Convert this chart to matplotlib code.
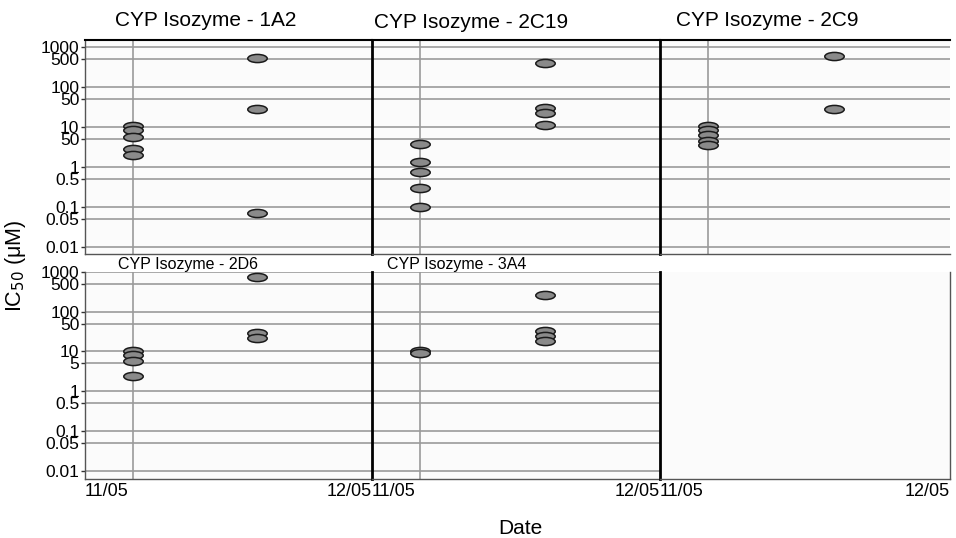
import numpy as np
import matplotlib
matplotlib.use('Agg')
import matplotlib.pyplot as plt
import matplotlib.dates as mdates
from matplotlib.path import Path
from datetime import datetime

plt.rcParams['font.family'] = ['Liberation Sans', 'DejaVu Sans']

############## data
isozymes = ['1A2', '2C19', '2C9', '2D6', '3A4']
run_dates = ['2005-11-06', '2005-11-19']
axis_start = '2005-11-01'
axis_end = '2005-12-01'

ic50_1A2 = ([10.5, 8.2, 5.6, 2.7, 2.0], [520, 28, 0.068])
ic50_2C19 = ([3.6, 1.3, 0.75, 0.3, 0.1], [400, 30, 22, 11])
ic50_2C9 = ([10.5, 8.3, 6.2, 4.3, 3.4], [590, 28])
ic50_2D6 = ([10.5, 8.0, 5.8, 2.4], [740, 30, 22])
ic50_3A4 = ([10, 9], [270, 32, 24, 18])
values = [ic50_1A2, ic50_2C19, ic50_2C9, ic50_2D6, ic50_3A4]

ytick_vals = [0.01, 0.05, 0.1, 0.5, 1, 5, 10, 50, 100, 500, 1000]
ytick_top = ['0.01', '0.05', '0.1', '0.5', '1', '50', '10', '50', '100', '500', '1000']
ytick_bottom = ['0.01', '0.05', '0.1', '0.5', '1', '5', '10', '50', '100', '500', '1000']

############## figure
W, H = 956, 538
fig = plt.figure(figsize=(W / 100, H / 100), dpi=100)

def px_axes(x0, y0, x1, y1):
    # pixel box (from top-left) -> figure axes
    return fig.add_axes([x0 / W, 1 - y1 / H, (x1 - x0) / W, (y1 - y0) / H])

cols = [(85, 372), (372, 660), (660, 950)]
rows = [(40, 254, (0.0066, 1470)), (272, 479, (0.0062, 1000))]

# ellipse marker
circ = Path.unit_circle()
ellipse = Path(circ.vertices * np.array([1.0, 0.42]), circ.codes)

dates = [datetime.strptime(d, '%Y-%m-%d') for d in run_dates]
xlo = datetime.strptime(axis_start, '%Y-%m-%d')
xhi = datetime.strptime(axis_end, '%Y-%m-%d')

axes = []
for r, (y0, y1, ylim) in enumerate(rows):
    for c, (x0, x1) in enumerate(cols):
        ax = px_axes(x0, y0, x1, y1)
        ax.set_facecolor('#fbfbfb')
        ax.set_yscale('log')
        ax.set_ylim(*ylim)
        ax.set_xlim(xlo, xhi)
        ax.minorticks_off()
        for s in ax.spines.values():
            s.set_color('#555555')
            s.set_linewidth(1)
        ax.spines['right'].set_visible(False)
        if c > 0:
            ax.spines['left'].set_color('black')
            ax.spines['left'].set_linewidth(2)
        if r == 0:
            ax.spines['top'].set_color('black')
            ax.spines['top'].set_linewidth(1.5)
        else:
            ax.spines['top'].set_visible(False)
        axes.append(ax)

for i, ax in enumerate(axes):
    r, c = divmod(i, 3)
    ax.set_yticks(ytick_vals)
    if c == 0:
        ax.set_yticklabels(ytick_top if r == 0 else ytick_bottom, fontsize=12.5)
        ax.tick_params(axis='y', length=3, width=1, color='#333333', pad=1)
    else:
        ax.set_yticklabels([])
        ax.tick_params(axis='y', length=0)
    ax.set_xticks([xlo, xhi])
    if r == 1:
        ax.xaxis.set_major_formatter(mdates.DateFormatter('%m/%y'))
        ax.tick_params(axis='x', length=0, labelsize=13, pad=3)
        labs = ax.get_xticklabels()
        labs[0].set_ha('left')
        labs[1].set_ha('right')
    else:
        ax.set_xticklabels([])
        ax.tick_params(axis='x', length=0)

    if i >= len(values):
        # empty panel
        ax.spines['right'].set_visible(True)
        ax.spines['right'].set_color('#555555')
        continue

    for v in ytick_vals:
        ax.axhline(v, color='#9a9a9a', lw=1.2, zorder=1)
    ax.axvline(dates[0], color='#9a9a9a', lw=1.2, zorder=1)

    for d, vals in zip(dates, values[i]):
        ax.plot([d] * len(vals), vals, linestyle='none', marker=ellipse,
                markersize=14, markerfacecolor='#8a8a8a',
                markeredgecolor='#1a1a1a', markeredgewidth=1.1, zorder=3,
                clip_on=False)

# panel titles
fig.text(206 / W, 1 - 20 / H, 'CYP Isozyme - ' + isozymes[0], fontsize=15, ha='center', va='center')
fig.text(471 / W, 1 - 22 / H, 'CYP Isozyme - ' + isozymes[1], fontsize=15, ha='center', va='center')
fig.text(767 / W, 1 - 20 / H, 'CYP Isozyme - ' + isozymes[2], fontsize=15, ha='center', va='center')
fig.text(118 / W, 1 - 264 / H, 'CYP Isozyme - ' + isozymes[3], fontsize=11.5, ha='left', va='center')
fig.text(387 / W, 1 - 264 / H, 'CYP Isozyme - ' + isozymes[4], fontsize=11.5, ha='left', va='center')

fig.text(16 / W, 1 - 266 / H, r'IC$_{50}$ ($\mathregular{\mu}$M)', fontsize=15.5,
         rotation=90, ha='center', va='center')
fig.text(520 / W, 1 - 528 / H, 'Date', fontsize=15, ha='center', va='center')

plt.savefig('out.png', dpi=100)
